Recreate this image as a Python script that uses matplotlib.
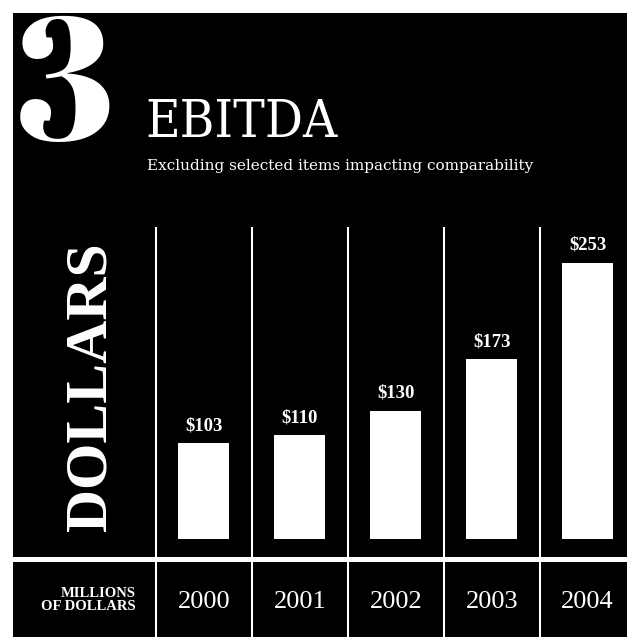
import matplotlib
matplotlib.use("Agg")
import matplotlib.pyplot as plt
from matplotlib.patches import Rectangle

# Data
years = ["2000", "2001", "2002", "2003", "2004"]
ebitda = [103, 110, 130, 173, 253]
value_labels = ["$103", "$110", "$130", "$173", "$253"]

W, H = 627, 637


def fx(x):
    return x / W


def fy(y):
    return 1 - y / H


fig = plt.figure(figsize=(W / 100, H / 100), dpi=100)
fig.patch.set_facecolor("white")

# black panel behind everything
fig.patches.append(Rectangle((fx(13), 0), 1 - fx(13), fy(13), transform=fig.transFigure,
                             facecolor="black", edgecolor="none", zorder=-5))

# Bars
ax = fig.add_axes([fx(13), fy(557), 1 - fx(13), (557 - 227) / H])
ax.patch.set_alpha(0)
x = list(range(len(years)))
base = 23.6
ax.bar(x, [v - base for v in ebitda], bottom=base, width=0.53, color="white", edgecolor="none")
for i in x:
    ax.axvline(i - 0.5, color="white", lw=1.5)
    ax.annotate(value_labels[i], (i, ebitda[i]), xytext=(0, 12.5), textcoords="offset points",
                ha="center", va="center", color="white", fontsize=13.5, fontweight="bold",
                family="Liberation Serif")
ax.set_xlim(-1.99, 4.41)
ax.set_ylim(8.6, 282.7)
ax.axis("off")

ax.text(-1.17, 0.515, "DOLLARS", transform=ax.get_xaxis_transform(), rotation=90,
        ha="center", va="center", color="white", fontsize=43, fontweight="bold",
        family="Liberation Serif")

# Year row
ax2 = fig.add_axes([fx(13), 0, 1 - fx(13), (637 - 562) / H])
ax2.patch.set_alpha(0)
ax2.set_xlim(-1.99, 4.41)
ax2.set_ylim(0, 1)
for i, yr in enumerate(years):
    ax2.axvline(i - 0.5, color="white", lw=1.5)
    ax2.text(i, 0.39, yr, ha="center", va="baseline", color="white", fontsize=19,
             family="Liberation Serif")
ax2.text(-0.71, 0.53, "MILLIONS", ha="right", va="baseline", color="white", fontsize=10.5,
         fontweight="bold", family="Liberation Serif")
ax2.text(-0.71, 0.36, "OF DOLLARS", ha="right", va="baseline", color="white", fontsize=10.5,
         fontweight="bold", family="Liberation Serif")
ax2.axis("off")

# white band between the plot and the year row
fig.patches.append(Rectangle((fx(13), fy(562)), 1 - fx(13), (562 - 557) / H, transform=fig.transFigure,
                             facecolor="white", edgecolor="none", zorder=-4))

# Header
fig.text(fx(15), fy(140), "3", ha="left", va="baseline", color="white", fontsize=125,
         family=["Abril Fatface", "Liberation Serif"])
fig.text(fx(145), fy(137), "EBITDA", ha="left", va="baseline", color="white", fontsize=38,
         family="DejaVu Serif", fontstretch="condensed")
fig.text(fx(147), fy(170), "Excluding selected items impacting comparability", ha="left",
         va="baseline", color="white", fontsize=11, family="DejaVu Serif")

fig.savefig("out.png", dpi=100, facecolor=fig.get_facecolor())
